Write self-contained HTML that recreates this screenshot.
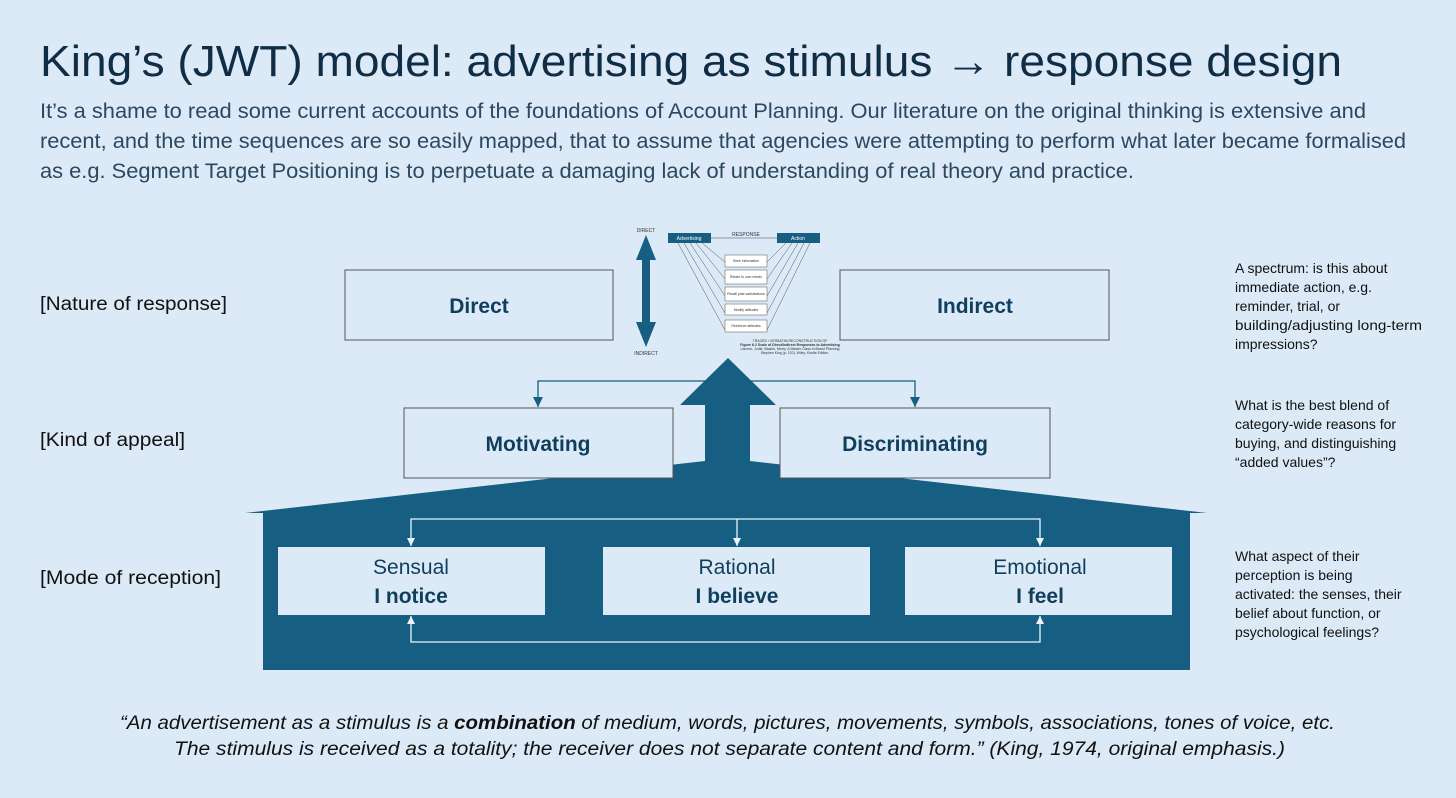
<!DOCTYPE html>
<html><head><meta charset="utf-8"><style>
html,body{margin:0;padding:0;background:#dce9f6;}
svg{display:block}
</style></head><body>
<svg width="1456" height="798" viewBox="0 0 1456 798" xmlns="http://www.w3.org/2000/svg" font-family="Liberation Sans, sans-serif">
<rect width="1456" height="798" fill="#dce9f6"/>
<defs>
<marker id="aw" markerWidth="9" markerHeight="9" refX="8" refY="4" orient="auto-start-reverse" markerUnits="userSpaceOnUse"><path d="M0,0 L8,4 L0,8z" fill="#eaf3fb"/></marker>
<marker id="ad" markerWidth="11" markerHeight="11" refX="10" refY="5" orient="auto-start-reverse" markerUnits="userSpaceOnUse"><path d="M0,0 L10,5 L0,10z" fill="#165f82"/></marker>
</defs>
<text x="40" y="76" font-size="44" fill="#0f2d45" textLength="1302" lengthAdjust="spacingAndGlyphs">King’s (JWT) model: advertising as stimulus → response design</text>
<g font-size="21" fill="#2c4860">
<text x="40" y="118" textLength="1326" lengthAdjust="spacingAndGlyphs">It’s a shame to read some current accounts of the foundations of Account Planning. Our literature on the original thinking is extensive and</text>
<text x="40" y="148" textLength="1366" lengthAdjust="spacingAndGlyphs">recent, and the time sequences are so easily mapped, that to assume that agencies were attempting to perform what later became formalised</text>
<text x="40" y="178" textLength="1094" lengthAdjust="spacingAndGlyphs">as e.g. Segment Target Positioning is to perpetuate a damaging lack of understanding of real theory and practice.</text>
</g>
<g font-size="19" fill="#111">
<text x="40" y="310" textLength="187" lengthAdjust="spacingAndGlyphs">[Nature of response]</text>
<text x="40" y="446" textLength="145" lengthAdjust="spacingAndGlyphs">[Kind of appeal]</text>
<text x="40" y="584" textLength="181" lengthAdjust="spacingAndGlyphs">[Mode of reception]</text>
</g>
<g font-size="14" fill="#111">
<text x="1235" y="273">A spectrum: is this about</text><text x="1235" y="292">immediate action, e.g.</text><text x="1235" y="311">reminder, trial, or</text><text x="1235" y="330" textLength="187" lengthAdjust="spacingAndGlyphs">building/adjusting long-term</text><text x="1235" y="349">impressions?</text>
<text x="1235" y="410">What is the best blend of</text><text x="1235" y="429">category-wide reasons for</text><text x="1235" y="448">buying, and distinguishing</text><text x="1235" y="467">“added values”?</text>
<text x="1235" y="561">What aspect of their</text><text x="1235" y="580">perception is being</text><text x="1235" y="599">activated: the senses, their</text><text x="1235" y="618">belief about function, or</text><text x="1235" y="637">psychological feelings?</text>
</g>
<path d="M245,513 L705,461 L705,405 L680,405 L728,358 L776,405 L750,405 L750,461 L1207,513 L1190,513 L1190,670 L263,670 L263,513 Z" fill="#165f82"/>
<g fill="#dce9f6" stroke="#555" stroke-width="1">
<rect x="345" y="270" width="268" height="70"/>
<rect x="840" y="270" width="269" height="70"/>
<rect x="404" y="408" width="269" height="70"/>
<rect x="780" y="408" width="270" height="70"/>
</g>
<g fill="#dce9f6">
<rect x="278" y="547" width="267" height="68"/>
<rect x="603" y="547" width="267" height="68"/>
<rect x="905" y="547" width="267" height="68"/>
</g>
<g font-size="21" font-weight="bold" fill="#0f3f5c" text-anchor="middle">
<text x="479" y="313">Direct</text>
<text x="975" y="313">Indirect</text>
<text x="538" y="451">Motivating</text>
<text x="915" y="451">Discriminating</text>
</g>
<g font-size="21" fill="#0f3f5c" text-anchor="middle">
<text x="411" y="574">Sensual</text><text x="411" y="603" font-weight="bold">I notice</text>
<text x="737" y="574">Rational</text><text x="737" y="603" font-weight="bold">I believe</text>
<text x="1040" y="574">Emotional</text><text x="1040" y="603" font-weight="bold">I feel</text>
</g>
<path d="M538,407 L538,381 L915,381 L915,407" fill="none" stroke="#165f82" stroke-width="1.3" marker-start="url(#ad)" marker-end="url(#ad)"/>
<g fill="none" stroke="#eaf3fb" stroke-width="1.3">
<path d="M411,546 L411,519 L1040,519 L1040,546" marker-start="url(#aw)" marker-end="url(#aw)"/>
<path d="M737,519 L737,546" marker-end="url(#aw)"/>
<path d="M411,616 L411,642 L1040,642 L1040,616" marker-start="url(#aw)" marker-end="url(#aw)"/>
</g>
<path d="M646,235 L656,260 L650,260 L650,322 L656,322 L646,347 L636,322 L642,322 L642,260 L636,260 Z" fill="#165f82"/>
<text x="646" y="232" font-size="5" text-anchor="middle" fill="#333">DIRECT</text>
<text x="646" y="355" font-size="5" text-anchor="middle" fill="#333">INDIRECT</text>
<rect x="668" y="233" width="43" height="10" fill="#165f82"/><text x="689" y="240" font-size="5" fill="#fff" text-anchor="middle">Advertising</text>
<rect x="777" y="233" width="43" height="10" fill="#165f82"/><text x="798" y="240" font-size="5" fill="#fff" text-anchor="middle">Action</text>
<line x1="711" y1="238" x2="777" y2="238" stroke="#444" stroke-width=".5"/>
<text x="746" y="236" font-size="5" fill="#333" text-anchor="middle">RESPONSE</text>
<g stroke="#555" stroke-width=".5" fill="none">
<path d="M678,243 L725,330 M684,243 L725,313 M690,243 L725,296 M696,243 L725,279 M702,243 L725,262"/>
<path d="M810,243 L767,330 M804,243 L767,313 M798,243 L767,296 M792,243 L767,279 M786,243 L767,262"/>
</g>
<g fill="#fff" stroke="#555" stroke-width=".5">
<rect x="725" y="255" width="42" height="12"/><rect x="725" y="270" width="42" height="14"/><rect x="725" y="287" width="42" height="14"/><rect x="725" y="304" width="42" height="11"/><rect x="725" y="320" width="42" height="12"/>
</g>
<g font-size="3.5" fill="#333" text-anchor="middle">
<text x="746" y="262">Seek information</text><text x="746" y="278">Relate to own needs</text><text x="746" y="295">Recall past satisfactions</text><text x="746" y="311">Modify attitudes</text><text x="746" y="327">Reinforce attitudes</text>
<text x="790" y="342">TRACED / VERBATIM RECONSTRUCTION OF</text>
<text x="790" y="346" font-weight="bold">Figure 6.2 Scale of Direct/Indirect Responses to Advertising</text>
<text x="790" y="350">Lannon, Judie; Baskin, Merry. A Master Class in Brand Planning</text>
<text x="795" y="354">Stephen King (p. 120). Wiley. Kindle Edition.</text>
</g>
<g font-size="19" font-style="italic" fill="#111">
<text x="120" y="729" textLength="1215" lengthAdjust="spacingAndGlyphs">“An advertisement as a stimulus is a <tspan font-weight="bold">combination</tspan> of medium, words, pictures, movements, symbols, associations, tones of voice, etc.</text>
<text x="174" y="755" textLength="1111" lengthAdjust="spacingAndGlyphs">The stimulus is received as a totality; the receiver does not separate content and form.” (King, 1974, original emphasis.)</text>
</g>
</svg>
</body></html>
